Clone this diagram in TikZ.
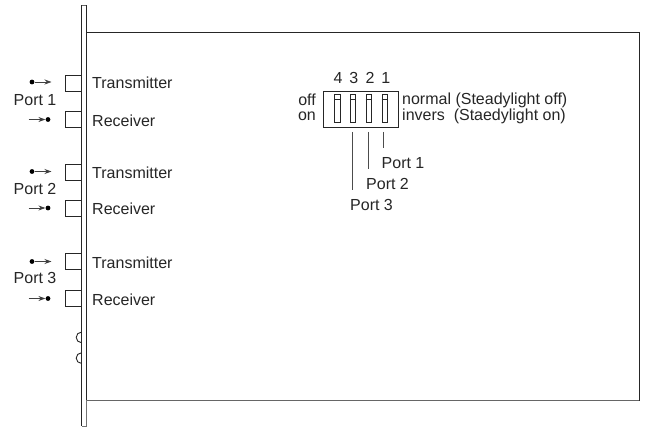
\documentclass[tikz,border=0pt]{standalone}
\usepackage{fontspec}
\setmainfont{Liberation Sans}
\usetikzlibrary{arrows.meta}
\tikzset{
  ln/.style={draw=black!85,line width=0.9pt},
  lbl/.style={inner sep=0pt,font=\fontsize{16}{16}\selectfont,text=black!85,anchor=west},
  portlbl/.style={lbl},
  sq/.style={ln,minimum width=16pt,minimum height=16pt,inner sep=0pt,anchor=north west},
  dipsw/.style={ln,minimum width=5.4pt,minimum height=27.4pt,inner sep=0pt,anchor=north west},
  lead/.style={draw=black!70,line width=0.9pt},
  ball/.style={circle,fill=black,inner sep=0pt,minimum size=4.8pt},
  arr/.style={draw=black!75,line width=0.8pt,-{Stealth[length=7pt,width=5pt]}}
}
\begin{document}
\begin{tikzpicture}[x=1pt,y=-1pt]
\useasboundingbox (0,0) rectangle (645,427);
\fill[white] (0,0) rectangle (645,427);
% housing and front panel
\draw[ln] (86.5,32.5) -- (639,32.5) -- (639,400.5);
\draw[draw=black!60,line width=1pt] (639,400.5) -- (86.5,400.5);
\draw[ln] (81.5,426) -- (81.5,5.5);
\draw[draw=black!60,line width=0.8pt] (81.5,5.5) -- (86.5,5.5);
\draw[ln] (86.5,5.5) -- (86.5,400);
\draw[draw=black!55,line width=0.8pt] (86.5,400) -- (86.5,426) -- (81.5,426);
% screws
\draw[ln] (81.5,342.7) arc[start angle=90,end angle=270,radius=5.3];
\draw[ln] (81.5,363.4) arc[start angle=90,end angle=270,radius=5.3];
% port sockets
\foreach \n/\t/\r/\pl/\ta/\ra/\py in {1/75/111.5/Port 1/82/119.5/100,2/164/200.5/Port 2/171.5/208/188.5,3/253/290/Port 3/261.5/298.5/278}{
  \node[sq] (t\n) at (65.3,\t) {};
  \node[sq] (r\n) at (65.3,\r) {};
  \node[lbl] (tl\n) at (92,\ta+1) {Transmitter};
  \node[lbl] (rl\n) at (92,\ra+1) {Receiver};
  \node[portlbl] (p\n) at (13.5,\py) {\pl};
  \node[ball] (td\n) at (32,\ta) {};
  \coordinate (te\n) at (51.5,\ta);
  \draw[arr] (td\n) -- (te\n);
  \node[ball] (rd\n) at (48,\ra) {};
  \coordinate (rs\n) at (28.5,\ra);
  \draw[arr] (rs\n) -- (rd\n);
}
% DIP switch
\node[ln,minimum width=74.4pt,minimum height=36pt,inner sep=0pt,anchor=north west] (dip) at (323.3,90.7) {};
\foreach \i/\x/\lx in {4/334.3/338,3/349.9/353.7,2/365.7/370,1/381.6/385.7}{
  \node[dipsw] (s\i) at (\x,94.4) {};
  \draw[ln,line width=0.6pt] (\x,99.5) -- ++(5.4,0);
  \node[lbl,anchor=center] (n\i) at (\lx,78) {\i};
}
\node[lbl,anchor=east] (off) at (316,100) {off};
\node[lbl,anchor=east] (on) at (316,116) {on};
\node[lbl] (nm) at (402,100) {normal (Steadylight off)};
\node[lbl] (iv) at (402,116) {invers\ \ (Staedylight on)};
% leaders
\node[lbl] (l1) at (381.5,163) {Port 1};
\node[lbl] (l2) at (366,184) {Port 2};
\node[lbl] (l3) at (350,205) {Port 3};
\coordinate (a1) at (383.5,132);
\coordinate (a2) at (368,132);
\coordinate (a3) at (352.3,132);
\draw[lead] (a1) -- (383.5,148);
\draw[lead] (a2) -- (368,169);
\draw[lead] (a3) -- (352.3,190);
\end{tikzpicture}
\end{document}
